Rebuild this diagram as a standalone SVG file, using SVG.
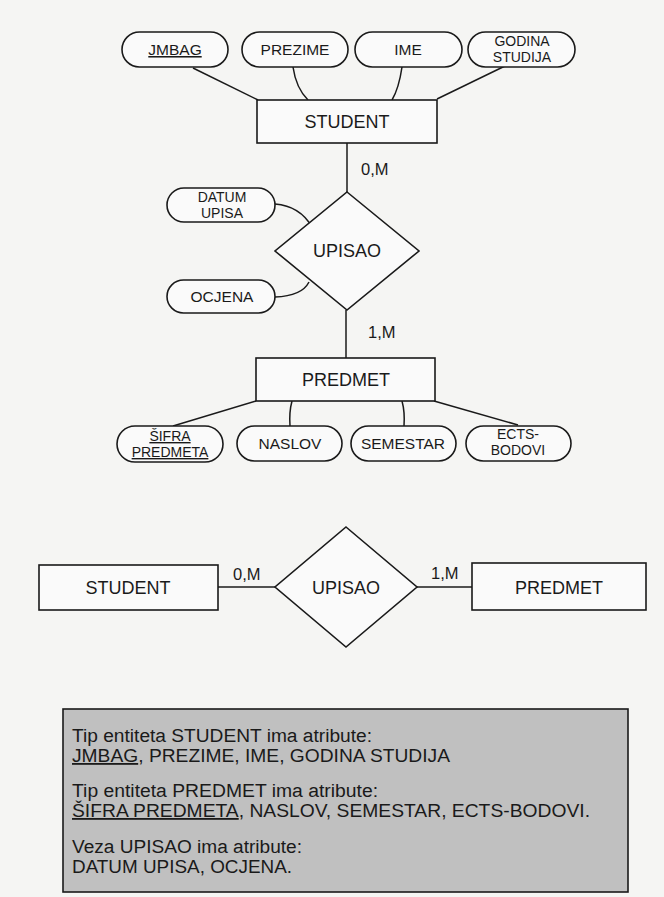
<svg xmlns="http://www.w3.org/2000/svg" width="664" height="897" viewBox="0 0 664 897">
<style>
.shape{fill:#fafafa;stroke:#1a1a1a;stroke-width:1.6}
.conn{fill:none;stroke:#1a1a1a;stroke-width:1.5}
text{font-family:"Liberation Sans",Arial,sans-serif;fill:#1a1a1a}
.ent{font-size:18px;text-anchor:middle}
.att{font-size:15.5px;text-anchor:middle}
.att2{font-size:14px;text-anchor:middle}
.card{font-size:16.5px}
.note{font-size:18px}
.u{text-decoration:underline}
</style>
<rect x="0" y="0" width="664" height="897" fill="#f5f5f3"/>

<g id="connectors">
  <line class="conn" x1="193" y1="68" x2="258" y2="100"/>
  <path class="conn" d="M293,67 Q296,88 308,100"/>
  <path class="conn" d="M402,67 Q399,88 392,100"/>
  <line class="conn" x1="505" y1="66" x2="437" y2="99"/>
  <line class="conn" x1="347" y1="143" x2="347" y2="192"/>
  <path class="conn" d="M275,204 Q300,206 312,227"/>
  <path class="conn" d="M275,297 Q302,296 309,282"/>
  <line class="conn" x1="346" y1="310" x2="346" y2="358"/>
  <line class="conn" x1="256" y1="401" x2="173" y2="426"/>
  <path class="conn" d="M292,401 Q289,412 290,426"/>
  <path class="conn" d="M402,401 Q405,412 404,426"/>
  <line class="conn" x1="434" y1="401" x2="518" y2="425"/>
  <line class="conn" x1="218" y1="587" x2="275" y2="587"/>
  <line class="conn" x1="417" y1="587" x2="472" y2="587"/>
  <text class="card" x="361" y="175">0,M</text>
  <text class="card" x="368" y="338">1,M</text>
  <text class="card" x="233" y="580">0,M</text>
  <text class="card" x="431" y="579">1,M</text>
</g>

<g id="attr-jmbag">
  <rect class="shape" x="122" y="32" width="106" height="35" rx="17.5"/>
  <text class="att u" x="175" y="55">JMBAG</text>
</g>
<g id="attr-prezime">
  <rect class="shape" x="242" y="32" width="106" height="35" rx="17.5"/>
  <text class="att" x="295" y="55">PREZIME</text>
</g>
<g id="attr-ime">
  <rect class="shape" x="355" y="32" width="107" height="35" rx="17.5"/>
  <text class="att" x="408" y="55">IME</text>
</g>
<g id="attr-godina">
  <rect class="shape" x="468" y="32" width="107" height="35" rx="17.5"/>
  <text class="att2" x="522" y="46">GODINA<tspan x="522" dy="16">STUDIJA</tspan></text>
</g>

<g id="student">
  <rect class="shape" x="257" y="100" width="180" height="43"/>
  <text class="ent" x="347" y="128">STUDENT</text>
</g>

<g id="attr-datum">
  <rect class="shape" x="167" y="188" width="108" height="34" rx="17"/>
  <text class="att2" x="222" y="202">DATUM<tspan x="222" dy="16">UPISA</tspan></text>
</g>
<g id="attr-ocjena">
  <rect class="shape" x="167" y="280" width="108" height="33" rx="16.5"/>
  <text class="att" x="222" y="302">OCJENA</text>
</g>

<g id="upisao">
  <polygon class="shape" points="347,192 419,251 347,310 275,251"/>
  <text class="ent" x="347" y="257">UPISAO</text>
</g>

<g id="predmet">
  <rect class="shape" x="256" y="358" width="179" height="43"/>
  <text class="ent" x="346" y="386">PREDMET</text>
</g>

<g id="attr-sifra">
  <rect class="shape" x="117" y="426" width="106" height="36" rx="18"/>
  <text class="att2" x="170" y="441"><tspan class="u">ŠIFRA</tspan><tspan class="u" x="170" dy="16">PREDMETA</tspan></text>
</g>
<g id="attr-naslov">
  <rect class="shape" x="237" y="426" width="105" height="35" rx="17.5"/>
  <text class="att" x="290" y="449">NASLOV</text>
</g>
<g id="attr-semestar">
  <rect class="shape" x="351" y="426" width="105" height="35" rx="17.5"/>
  <text class="att" x="403" y="449">SEMESTAR</text>
</g>
<g id="attr-ects">
  <rect class="shape" x="466" y="426" width="105" height="35" rx="17.5"/>
  <text class="att2" x="518" y="439">ECTS-<tspan x="518" dy="16">BODOVI</tspan></text>
</g>

<g id="student2">
  <rect class="shape" x="39" y="565" width="179" height="45"/>
  <text class="ent" x="128" y="594">STUDENT</text>
</g>
<g id="upisao2">
  <polygon class="shape" points="346,527 417,587 346,647 275,587"/>
  <text class="ent" x="346" y="594">UPISAO</text>
</g>
<g id="predmet2">
  <rect class="shape" x="472" y="563" width="174" height="47"/>
  <text class="ent" x="559" y="594">PREDMET</text>
</g>

<g id="note">
  <rect x="63" y="709" width="565" height="183" fill="#c0c0c0" stroke="#1a1a1a" stroke-width="1.6"/>
  <text class="note" x="72" y="742" textLength="300" lengthAdjust="spacingAndGlyphs">Tip entiteta STUDENT ima atribute:</text>
  <text class="note" x="72" y="762" textLength="378" lengthAdjust="spacingAndGlyphs"><tspan class="u">JMBAG</tspan>, PREZIME, IME, GODINA STUDIJA</text>
  <text class="note" x="72" y="797" textLength="306" lengthAdjust="spacingAndGlyphs">Tip entiteta PREDMET ima atribute:</text>
  <text class="note" x="72" y="817" textLength="518" lengthAdjust="spacingAndGlyphs"><tspan class="u">ŠIFRA PREDMETA</tspan>, NASLOV, SEMESTAR, ECTS-BODOVI.</text>
  <text class="note" x="72" y="853" textLength="230" lengthAdjust="spacingAndGlyphs">Veza UPISAO ima atribute:</text>
  <text class="note" x="72" y="873" textLength="220" lengthAdjust="spacingAndGlyphs">DATUM UPISA, OCJENA.</text>
</g>
</svg>
